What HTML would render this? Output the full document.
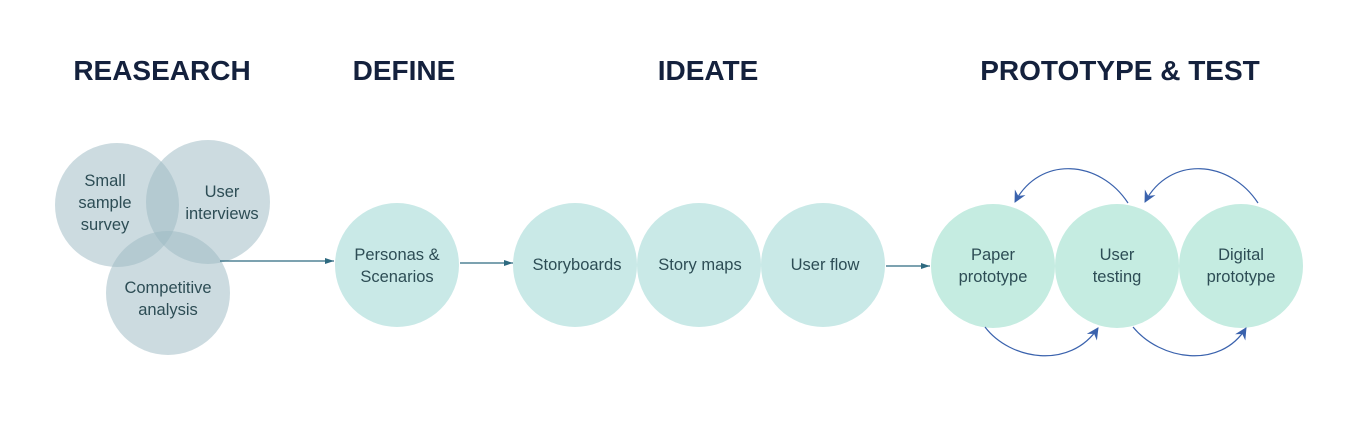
<!DOCTYPE html>
<html><head><meta charset="utf-8"><style>
body{margin:0;background:#fff}
svg text{font-family:"Liberation Sans",sans-serif}
</style></head><body>
<svg width="1351" height="424" viewBox="0 0 1351 424" xmlns="http://www.w3.org/2000/svg">
<defs>
<marker id="a" markerWidth="10" markerHeight="8" refX="9" refY="4" orient="auto" markerUnits="userSpaceOnUse"><path d="M0,1 L9,4 L0,7 z" fill="#2e6a80"/></marker>
<marker id="b" markerWidth="14" markerHeight="12" refX="11" refY="6" orient="auto" markerUnits="userSpaceOnUse"><path d="M0,0 L12,6 L0,12 L4,6 z" fill="#3a62ad"/></marker>
</defs>
<g font-weight="bold" font-size="28" fill="#14213d" text-anchor="middle">
<text x="162" y="80">REASEARCH</text>
<text x="404" y="80">DEFINE</text>
<text x="708" y="80">IDEATE</text>
<text x="1120" y="80">PROTOTYPE &amp; TEST</text>
</g>
<g fill="#9dbac4" fill-opacity="0.52">
<circle cx="117" cy="205" r="62"/>
<circle cx="208" cy="202" r="62"/>
<circle cx="168" cy="293" r="62"/>
</g>
<g fill="#c9e9e7">
<circle cx="397" cy="265" r="62"/>
<circle cx="575" cy="265" r="62"/>
<circle cx="699" cy="265" r="62"/>
<circle cx="823" cy="265" r="62"/>
</g>
<g fill="#c5ece1">
<circle cx="993" cy="266" r="62"/>
<circle cx="1117" cy="266" r="62"/>
<circle cx="1241" cy="266" r="62"/>
</g>
<g stroke="#2e6a80" stroke-width="1.2" fill="none" marker-end="url(#a)">
<line x1="220" y1="261" x2="334" y2="261"/>
<line x1="460" y1="263" x2="513" y2="263"/>
<line x1="886" y1="266" x2="930" y2="266"/>
</g>
<g stroke="#3a62ad" stroke-width="1.2" fill="none" marker-end="url(#b)">
<path d="M1128,203 C1100,160 1040,155 1015,202"/>
<path d="M1258,203 C1230,160 1170,155 1145,202"/>
<path d="M985,327 C1010,360 1070,370 1098,328"/>
<path d="M1133,327 C1160,360 1220,370 1246,328"/>
</g>
<g font-size="16.5" fill="#2d4d55" text-anchor="middle">
<text x="105" y="186">Small</text>
<text x="105" y="208">sample</text>
<text x="105" y="230">survey</text>
<text x="222" y="197">User</text>
<text x="222" y="219">interviews</text>
<text x="168" y="293">Competitive</text>
<text x="168" y="315">analysis</text>
<text x="397" y="260">Personas &amp;</text>
<text x="397" y="282">Scenarios</text>
<text x="577" y="270">Storyboards</text>
<text x="700" y="270">Story maps</text>
<text x="825" y="270">User flow</text>
<text x="993" y="260">Paper</text>
<text x="993" y="282">prototype</text>
<text x="1117" y="260">User</text>
<text x="1117" y="282">testing</text>
<text x="1241" y="260">Digital</text>
<text x="1241" y="282">prototype</text>
</g>
</svg>
</body></html>
